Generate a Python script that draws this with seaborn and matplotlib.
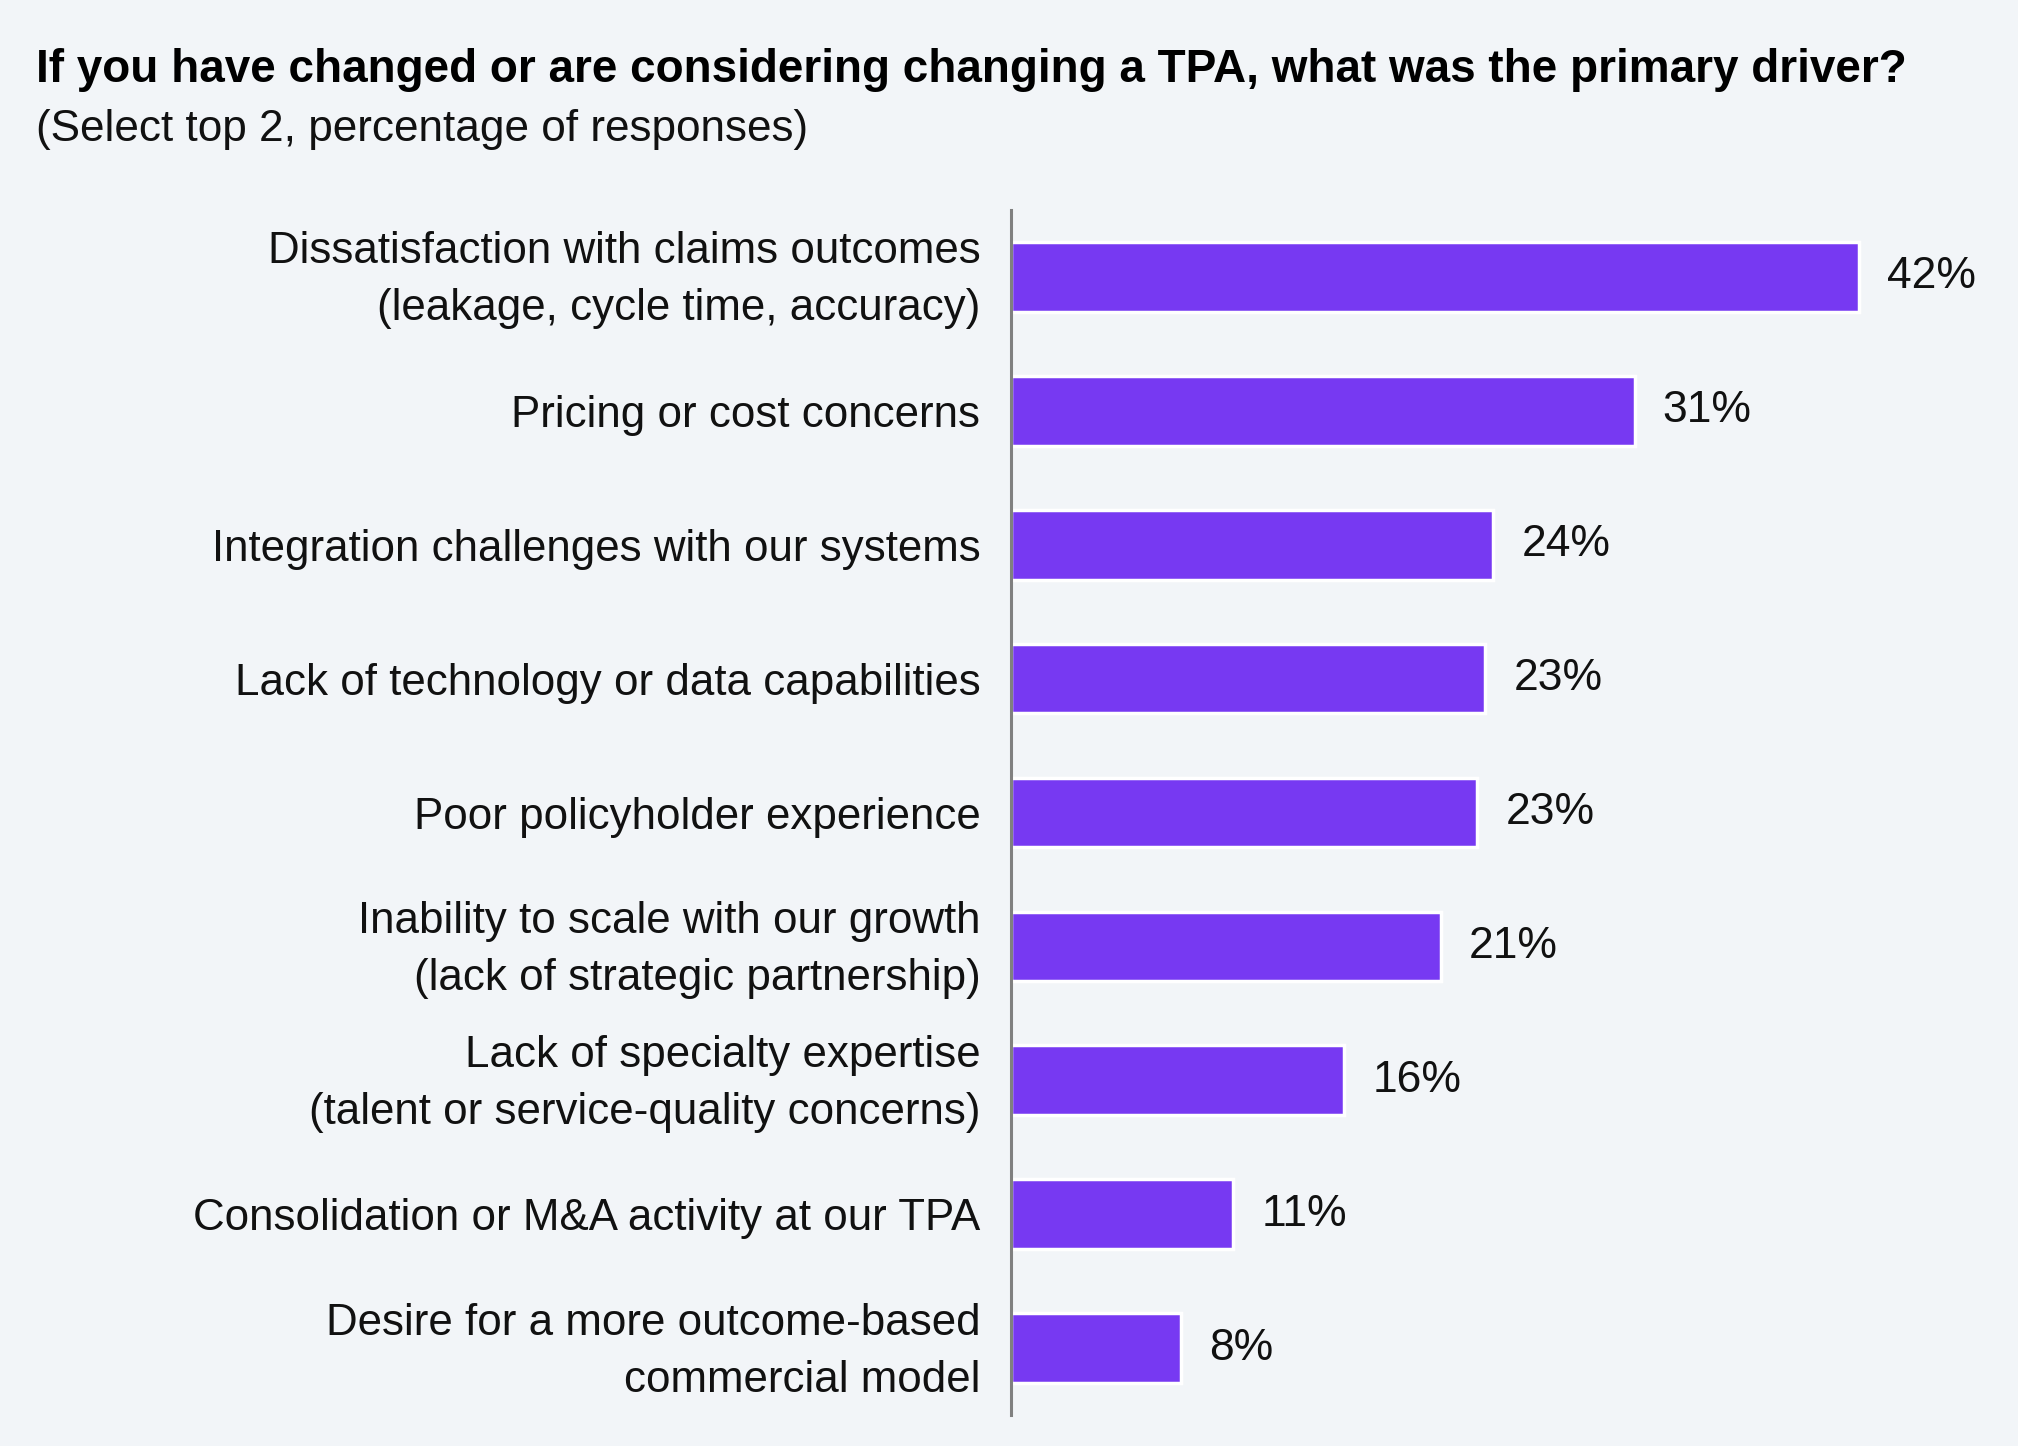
import matplotlib
matplotlib.use("Agg")
import pandas as pd
import seaborn as sns
import matplotlib.pyplot as plt
from matplotlib.transforms import ScaledTranslation

# data
drivers = [
    "Dissatisfaction with claims outcomes\n(leakage, cycle time, accuracy)",
    "Pricing or cost concerns",
    "Integration challenges with our systems",
    "Lack of technology or data capabilities",
    "Poor policyholder experience",
    "Inability to scale with our growth\n(lack of strategic partnership)",
    "Lack of specialty expertise\n(talent or service-quality concerns)",
    "Consolidation or M&A activity at our TPA",
    "Desire for a more outcome-based\ncommercial model",
]
# bar lengths as drawn, and the labels printed next to them
shares = [42, 30.9, 23.9, 23.5, 23.1, 21.3, 16.5, 11.0, 8.4]
share_labels = ["42%", "31%", "24%", "23%", "23%", "21%", "16%", "11%", "8%"]

title = "If you have changed or are considering changing a TPA, what was the primary driver?"
subtitle = "(Select top 2, percentage of responses)"

df = pd.DataFrame({"driver": drivers, "share": shares})

bg = "#F2F5F8"
purple = "#7739F2"

sns.set_theme(style="white")
plt.rcParams["font.family"] = ["Liberation Sans", "DejaVu Sans"]

fig = plt.figure(figsize=(20.18, 14.46), dpi=100, facecolor=bg)
ax = fig.add_axes([0.501, 0.0214, 0.469, 0.8334], facecolor=bg)

sns.barplot(data=df, x="share", y="driver", orient="h", color=purple,
            saturation=1, width=0.52, edgecolor="white", linewidth=2.5, ax=ax)

for i, (v, t) in enumerate(zip(shares, share_labels)):
    ax.text(v + 1.4, i, t, va="center", ha="left", fontsize=32, color="#111111")

ax.set_xlim(0, 46.9)
ax.set_ylim(8.5, -0.5)
ax.set_xlabel("")
ax.set_ylabel("")
ax.set_xticks([])
for s in ["top", "right", "bottom"]:
    ax.spines[s].set_visible(False)
ax.spines["left"].set_color("#808080")
ax.spines["left"].set_linewidth(2.2)
ax.tick_params(axis="y", length=0, pad=22)
# two-line labels sit a little high in the original
lift = ScaledTranslation(0, 0.09, fig.dpi_scale_trans)
for lbl in ax.get_yticklabels():
    lbl.set_fontsize(31.6)
    lbl.set_color("#111111")
    lbl.set_linespacing(1.5)
    lbl.set_multialignment("right")
    if "\n" in lbl.get_text():
        lbl.set_transform(lbl.get_transform() + lift)

fig.text(0.0178, 1 - 82 / 1446, title, fontsize=33, fontweight="bold",
         color="#000000", va="baseline", ha="left")
fig.text(0.0178, 1 - 141 / 1446, subtitle, fontsize=31.8, color="#111111",
         va="baseline", ha="left")

fig.savefig("out.png", dpi=100, facecolor=bg)
